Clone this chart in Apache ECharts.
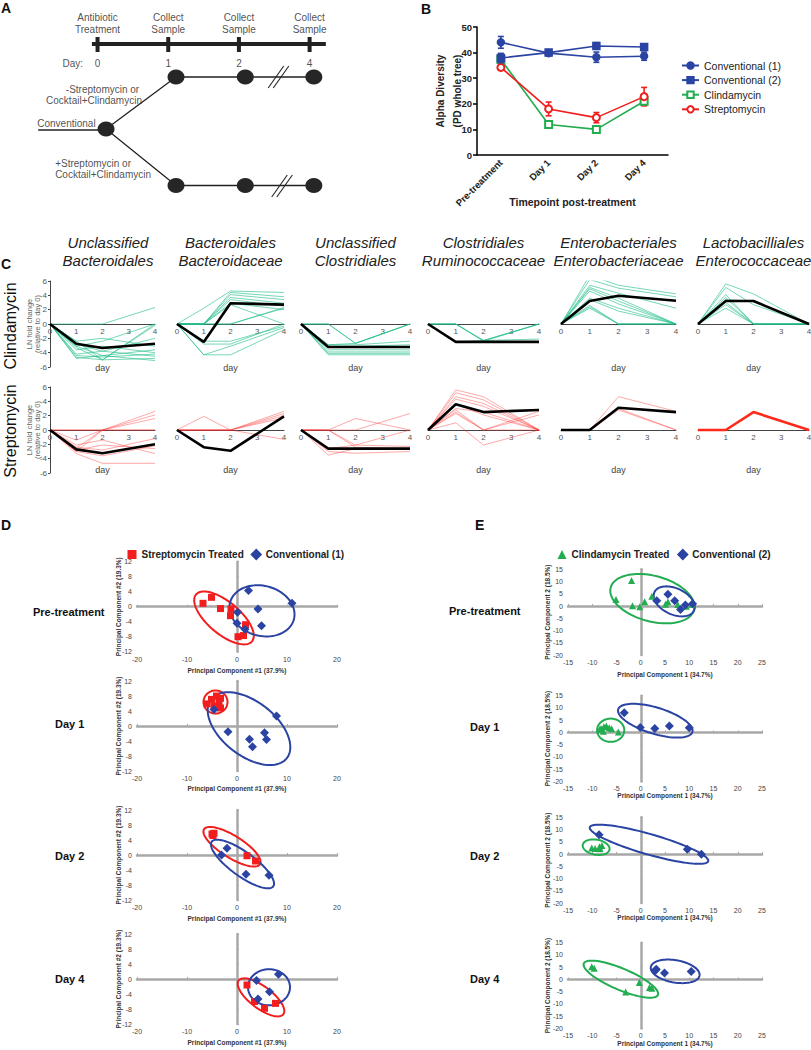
<!DOCTYPE html>
<html><head><meta charset="utf-8">
<script src="https://cdn.jsdelivr.net/npm/echarts@6.0.0/dist/echarts.min.js"></script>
<style>html,body{margin:0;padding:0;background:#fff}#chart{width:811px;height:1050px}</style>
</head><body><div id="chart"></div>
<script>
// ================= DATA =================
// Panel A (schematic; x in day-slot units, y in level units)
const aDayIndex = [0, 1, 2, 3];
const aDayLabels = ['0', '1', '2', '4'];
const aHeaderLine1 = ['Antibiotic', 'Collect', 'Collect', 'Collect'];
const aHeaderLine2 = ['Treatment', 'Sample', 'Sample', 'Sample'];
const aSampleX = [1.11, 2.09, 3.06];
const aBranchY = [7.7, 18.55];
const aRoot = [0.12, 12.9];
const aBreaks = [[2.56, 7.7], [2.61, 18.6]];
const aNotes = [
  ['-Streptomycin or', 0.07, 8.9, 'center'],
  ['Cocktail+Clindamycin', -0.05, 10.0, 'center'],
  ['Conventional', -0.44, 12.35, 'center'],
  ['+Streptomycin or', -0.60, 16.3, 'left'],
  ['Cocktail+Clindamycin', -0.60, 17.4, 'left']
];

// Panel B
const bCategories = ['Pre-treatment', 'Day 1', 'Day 2', 'Day 4'];
const bConv1 = [44.0, 39.8, 38.2, 38.6];
const bConv1Err = [2.3, 1.0, 2.0, 1.6];
const bConv2 = [37.9, 40.0, 42.6, 42.2];
const bConv2Err = [1.8, 1.0, 1.3, 1.0];
const bClinda = [37.3, 11.9, 10.0, 21.0];
const bClindaErr = [1.0, 0.8, 0.6, 1.3];
const bStrep = [34.2, 18.0, 14.6, 22.8];
const bStrepErr = [1.1, 2.7, 2.0, 3.6];

// Panel C (LN fold change at days 0,1,2,4)
const cDays = [0, 1, 2, 4];
const cTitles = [['Unclassified', 'Bacteroidales'], ['Bacteroidales', 'Bacteroidaceae'], ['Unclassified', 'Clostridiales'],
  ['Clostridiales', 'Ruminococcaceae'], ['Enterobacteriales', 'Enterobacteriaceae'], ['Lactobacilliales', 'Enterococcaceae']];
const cRowNames = ['Clindamycin', 'Streptomycin'];

const clinUnclBacteroidales = [[0,0,0,2.3],[0,-2.4,-5,0],[0,-3.1,-2.4,0],[0,-3.3,-5,-0.2],[0,-4.8,-4.4,-5.1],[0,-4.65,-5,-4.8],
  [0,-4.2,-3.8,-4.5],[0,-3.6,-3.1,-4],[0,-3.1,-4.4,-3.6],[0,-2.4,-2.0,-3.1],[0,-2.8,-3.8,-2.0],[0,-4.4,-4.6,-4.2]];
const clinUnclBacteroidalesMean = [0,-2.75,-3.35,-2.75];
const clinBacteroidaceae = [[0,2.2,4.6,4.4],[0,0,4.4,3.8],[0,0,4.1,3.4],[0,0,3.7,2.9],[0,0,3.4,2.5],[0,0,2.7,0],[0,0,2.9,2.0],
  [0,0,0,2.2],[0,0,0,2.3],[0,-2.4,-2.4,-0.3],[0,-4.3,-3.1,-0.5],[0,-4.3,-4.3,-0.8],[0,-2.8,-2.8,0]];
const clinBacteroidaceaeMean = [0,-2.5,2.9,2.7];
const clinUnclClostridiales = [[0,0,-2.7,0],[0,0,-2.7,0],[0,-2.9,-2.7,0],[0,-2.9,-2.9,-2.4],[0,-3.1,-3.1,-2.9],[0,-3.6,-3.6,-3.6],
  [0,-3.9,-3.9,-3.9],[0,-4.3,-4.3,-4.3],[0,-4.1,-4.1,-4.1]];
const clinUnclClostridialesMean = [0,-3.2,-3.2,-3.2];
const clinRuminococcaceae = [[0,0,-2.3,0],[0,0,-2.3,0],[0,0,-2.4,0],[0,-2.5,-2.3,-2.1],[0,-2.6,-2.5,-2.5]];
const clinRuminococcaceaeMean = [0,-2.5,-2.5,-2.5];
const clinEnterobacteriaceae = [[0,6.8,5.4,4.2],[0,6.2,5.0,3.8],[0,5.4,4.3,2.2],[0,5.1,3.6,0],[0,4.9,3.2,0],[0,4.6,2.8,0],
  [0,3.6,2.2,0],[0,3.4,1.8,0],[0,2.6,0,0],[0,2.2,0,0],[0,2.4,0,0]];
const clinEnterobacteriaceaeMean = [0,3.2,3.95,3.25];
const clinEnterococcaceae = [[0,5.6,4.2,0],[0,5.1,2.7,0],[0,4.1,0,0],[0,3.7,0,0],[0,3.0,0,0],[0,2.7,0,0],[0,2.2,0,0],[0,3.4,3.2,0]];
const clinEnterococcaceaeMean = [0,3.2,3.2,0];

const strepUnclBacteroidales = [[0,0,0,2.6],[0,-1.4,0,2.1],[0,-2.5,0,1.6],[0,-3,0,0],[0,0,0,0],[0,-2.1,-1.4,-3.3],[0,-3.3,-4.65,-4.65],
  [0,-2.8,-2.1,-2.6],[0,-3.0,-3.6,-2.2],[0,-2.4,-2.8,-1.2]];
const strepUnclBacteroidalesMean = [0,-2.7,-3.25,-2.0];
const strepBacteroidaceae = [[0,1.9,0,2.6],[0,0,0,2.3],[0,0,0,2.0],[0,0,0,1.7],[0,0,0,-1.3]];
const strepBacteroidaceaeMean = [0,-2.4,-2.9,1.9];
const strepUnclClostridiales = [[0,0,1.6,0],[0,0,0,2.3],[0,0,-2.1,0],[0,0,-2.4,-2.6],[0,-3,-3.25,-3],[0,-3.5,-2.6,-2.6],[0,-2.6,-2.1,-2.3]];
const strepUnclClostridialesMean = [0,-2.6,-2.6,-2.6];
const strepRuminococcaceae = [[0,5.6,4.65,0],[0,5.2,4.2,0],[0,4.65,3.7,0],[0,4.3,3.3,0],[0,2.8,0,2.6],[0,2.3,0,2.1],[0,3.6,2.1,0],
  [0,1.0,-2.1,0],[0,3.0,2.5,0],[0,2.5,0,0]];
const strepRuminococcaceaeMean = [0,3.6,2.5,2.8];
const strepEnterobacteriaceae = [[0,0,4.65,2.6],[0,0,3.0,0],[0,0,2.8,0]];
const strepEnterobacteriaceaeMean = [0,0,3.1,2.5];
const strepEnterococcaceae = [];
const strepEnterococcaceaeMean = [0,0,2.5,0];

// Panel D (PC1, PC2): Streptomycin treated vs Conventional (1)
const dRowNames = ['Pre-treatment', 'Day 1', 'Day 2', 'Day 4'];
const dStrepPre = [[-6.8,0.9],[-5.1,2.5],[-3.3,-0.5],[-1.2,-0.6],[-1.3,-2.4],[1.7,-4.8],[0.2,-8],[1.3,-7.7]];
const dConvPre = [[2.3,4.3],[4.2,-0.6],[11,0.9],[0.1,-1.5],[0,-4.4],[4.9,-5.1],[1.6,-6]];
const dStrepDay1 = [[-6,5.9],[-5.1,7.1],[-4.1,8],[-3.3,7.4],[-3.6,6.5],[-4.6,5.3],[-3.3,4.8]];
const dConvDay1 = [[-4.6,4.4],[-1.8,-1.5],[2.5,-3.5],[3.1,-5.5],[5.5,-1.8],[5.9,-3.6],[7.9,2.7]];
const dStrepDay2 = [[-5,5.6],[-4.8,5.2],[-4.6,5.8],[2,-0.2],[3.7,-1.6]];
const dConvDay2 = [[-2,1.8],[-3.1,0],[1.8,-5.1],[6.4,-5.4]];
const dStrepDay4 = [[2,-1.6],[3.5,-6],[5.5,-7.8],[7.7,-6.5]];
const dConvDay4 = [[3.9,-0.4],[6.5,-3.4],[8.3,1.3],[4.2,-5.3]];
// ellipses: centre x, centre y, semi-axis a, semi-axis b (PC1 units), tilt (deg)
const dStrepEllipses = [[-2.6,-3.0,7.3,3.2,-40],[-4.3,6.4,2.4,2.3,0],[-1.0,2.2,6.6,2.2,-32],[4.8,-4.9,5.6,2.2,-37]];
const dConvEllipses = [[5.0,-1.1,6.6,5.0,-15],[2.4,-0.7,9.6,5.4,-38],[1.1,-2.4,7.6,2.4,-36],[6.4,-2.2,4.2,3.6,0]];

// Panel E: Clindamycin treated vs Conventional (2)
const eClindaPre = [[-5.1,2.7],[-1.9,10.4],[-1.7,0.1],[-0.2,-0.3],[0.8,1.7],[2.3,4.0],[5.1,0.7],[5.6,1.7],[7.6,0.6],[9.4,-0.1],[10.6,0.7]];
const eConvPre = [[3.3,2.2],[5.6,4.8],[7.0,2.2],[8.2,-1.4],[9.2,0.4],[10.7,0.9]];
const eClindaDay1 = [[-8.2,1.6],[-7.6,2.3],[-7.1,2.6],[-6.5,1.9],[-7.7,0.5],[-6.0,1.5],[-4.6,0.2],[-8.5,1.2]];
const eConvDay1 = [[-3.4,8.0],[-0.1,2.0],[2.9,1.6],[5.9,2.6],[10.0,1.9]];
const eClindaDay2 = [[-10.1,2.5],[-9.4,2.3],[-8.5,3.0],[-8.0,3.5],[-8.4,2.2]];
const eConvDay2 = [[-8.6,7.9],[9.6,2.0],[12.5,-0.1]];
const eClindaDay4 = [[-10.1,5.2],[-9.6,4.6],[-3.1,-5.1],[-0.3,-1.3],[1.8,-3.3],[2.3,-3.6]];
const eConvDay4 = [[3.2,4.2],[4.9,2.6],[10.4,3.2],[3.0,3.6]];
const eClindaEllipses = [[2.4,3.0,8.9,4.7,-15],[-6.2,0.9,2.8,2.4,0],[-9.2,2.8,2.8,1.55,-10],[-4.1,0.1,8.3,2.2,-23]];
const eConvEllipses = [[6.9,1.9,4.5,2.7,-25],[3.0,4.8,8.0,2.7,-17],[1.7,4.0,12.7,2.1,-16],[7.1,3.3,5.1,2.3,-10]];

// ================= BUILD =================
const FONT = '"Liberation Sans", Arial, Helvetica, sans-serif';
const BLUE = '#2b44a3', GREEN = '#21ad50', RED = '#f21d1d';
const option = { animation: false, backgroundColor: '#ffffff', textStyle: { fontFamily: FONT },
  grid: [], xAxis: [], yAxis: [], series: [], legend: [], graphic: { elements: [] } };
const gfx = option.graphic.elements;

function addGrid(left, top, width, height) {
  option.grid.push({ left, top, width, height, containLabel: false, outerBoundsMode: 'none', show: false });
  return option.grid.length - 1;
}
function txt(text, x, y, o) {
  o = o || {};
  gfx.push({ type: 'text', x, y, rotation: o.rot || 0, silent: true, z: 100,
    style: { text, fill: o.color || '#222', fontSize: o.size || 10, fontWeight: o.weight || 'normal',
      fontStyle: o.style || 'normal', fontFamily: FONT,
      textAlign: o.align || 'left', textVerticalAlign: o.valign || 'middle',
      align: o.align || 'left', verticalAlign: o.valign || 'middle' } });
}

// ---------- Panel A ----------
const gA = addGrid(0, 0, 340, 200);
const xA = option.xAxis.push({ gridIndex: gA, type: 'value', min: -1.38, max: 3.43, show: false }) - 1;
const yA = option.yAxis.push({ gridIndex: gA, type: 'value', min: 0, max: 20, inverse: true, show: false }) - 1;
function aLine(points, width) {
  option.series.push({ type: 'line', xAxisIndex: xA, yAxisIndex: yA, data: points, symbol: 'none', silent: true,
    lineStyle: { color: '#222', width }, z: 2 });
}
aLine([[-0.08, 4.4], [3.23, 4.4]], 4);
option.series.push({ type: 'scatter', xAxisIndex: xA, yAxisIndex: yA, silent: true, symbol: 'rect', symbolSize: [4, 15],
  itemStyle: { color: '#222', opacity: 1 }, data: aDayIndex.map(i => [i, 4.45]), z: 3 });
aBranchY.forEach(by => aLine([aRoot, [aSampleX[0], by], [aSampleX[1], by], [aSampleX[2], by]], 1.3));
aLine([[-0.84, 13.0], [aRoot[0], 13.0]], 1.3);
aBreaks.forEach(b => { [-0.036, 0.036].forEach(o => aLine([[b[0] + o - 0.11, b[1] + 1.1], [b[0] + o + 0.11, b[1] - 1.1]], 1.1)); });
option.series.push({ type: 'scatter', xAxisIndex: xA, yAxisIndex: yA, silent: true, symbol: 'circle', symbolSize: [17, 15],
  itemStyle: { color: '#262626', opacity: 1 }, z: 4,
  data: [aRoot].concat(aBranchY.flatMap(by => aSampleX.map(sx => [sx, by]))) });
const aTextData = [];
aDayIndex.forEach((d, i) => {
  aTextData.push({ name: aHeaderLine1[i], value: [d, 1.7] });
  aTextData.push({ name: aHeaderLine2[i], value: [d, 2.9] });
  aTextData.push({ name: aDayLabels[i], value: [d, 6.3] });
});
aTextData.push({ name: 'Day:', value: [-0.35, 6.3] });
aNotes.forEach(n => aTextData.push({ name: n[0], value: [n[1], n[2]], label: { align: n[3] } }));
option.series.push({ type: 'scatter', xAxisIndex: xA, yAxisIndex: yA, silent: true, symbolSize: 0, data: aTextData, z: 5,
  label: { show: true, position: 'inside', formatter: '{b}', fontSize: 10, color: '#222', fontFamily: FONT,
    align: 'center', verticalAlign: 'middle' } });

// ---------- Panel B ----------
const gB = addGrid(477, 27, 191, 128);
const xB = option.xAxis.push({ gridIndex: gB, type: 'category', data: bCategories, boundaryGap: true,
  axisLine: { lineStyle: { color: '#000', width: 1.5 } },
  axisTick: { alignWithLabel: true, length: 4, lineStyle: { color: '#000', width: 1.5 } },
  axisLabel: { rotate: 45, fontSize: 9.5, fontWeight: 'bold', color: '#222', margin: 6, interval: 0 },
  name: 'Timepoint post-treatment', nameLocation: 'middle', nameGap: 41, nameMoveOverlap: false,
  nameTextStyle: { fontSize: 10.5, fontWeight: 'bold', color: '#222' } }) - 1;
const yB = option.yAxis.push({ gridIndex: gB, type: 'value', min: 0, max: 50, interval: 10,
  axisLine: { show: true, lineStyle: { color: '#000', width: 1.5 } },
  axisTick: { show: true, length: 4, lineStyle: { color: '#000', width: 1.5 } },
  axisLabel: { fontSize: 9.5, fontWeight: 'bold', color: '#222', margin: 5 }, splitLine: { show: false },
  name: 'Alpha Diversity\n(PD whole tree)', nameLocation: 'middle', nameGap: 11.5, nameMoveOverlap: false,
  nameTextStyle: { fontSize: 10, fontWeight: 'bold', color: '#222', lineHeight: 17 } }) - 1;
function errRender(params, api) {
  const x = api.value(0), lo = api.value(1), hi = api.value(2);
  const p1 = api.coord([x, hi]), p2 = api.coord([x, lo]);
  const w = 3, c = api.visual('color');
  const st = () => ({ stroke: c, lineWidth: 1.6 });
  return { type: 'group', children: [
    { type: 'line', shape: { x1: p1[0], y1: p1[1], x2: p2[0], y2: p2[1] }, style: st() },
    { type: 'line', shape: { x1: p1[0] - w, y1: p1[1], x2: p1[0] + w, y2: p1[1] }, style: st() },
    { type: 'line', shape: { x1: p2[0] - w, y1: p2[1], x2: p2[0] + w, y2: p2[1] }, style: st() }] };
}
[['Conventional (1)', bConv1, bConv1Err, BLUE, 'circle', 6],
 ['Conventional (2)', bConv2, bConv2Err, BLUE, 'rect', 6],
 ['Clindamycin', bClinda, bClindaErr, GREEN, 'emptyRect', 5],
 ['Streptomycin', bStrep, bStrepErr, RED, 'emptyCircle', 5]].forEach(s => {
  option.series.push({ type: 'custom', xAxisIndex: xB, yAxisIndex: yB, silent: true, renderItem: errRender,
    itemStyle: { color: s[3] }, encode: { x: 0, y: [1, 2] }, z: s[5],
    data: s[1].map((v, i) => [i, v - s[2][i], v + s[2][i]]) });
  option.series.push({ type: 'line', name: s[0], xAxisIndex: xB, yAxisIndex: yB, data: s[1], symbol: s[4], symbolSize: 7,
    itemStyle: { color: s[3], borderColor: s[3], borderWidth: 1.5, opacity: 1 }, lineStyle: { color: s[3], width: 1.6 }, z: s[5] });
});
option.legend.push({ orient: 'vertical', left: 676, top: 54, itemWidth: 17, itemHeight: 8, itemGap: 1.6, selectedMode: false,
  textStyle: { fontSize: 10.5, color: '#222', lineHeight: 13, fontFamily: FONT },
  data: ['Conventional (1)', 'Conventional (2)', 'Clindamycin', 'Streptomycin'] });

// ---------- Panel C ----------
const cLeft = [50, 177, 301, 428, 561, 698];
const cWidth = [105, 107, 109, 111, 115, 111];
const cTop = [281, 387];
const cHeight = 86;
const cTitleX = [108, 230.5, 355.5, 483.5, 618.5, 753.5];
const cLines = [
  [clinUnclBacteroidales, clinBacteroidaceae, clinUnclClostridiales, clinRuminococcaceae, clinEnterobacteriaceae, clinEnterococcaceae],
  [strepUnclBacteroidales, strepBacteroidaceae, strepUnclClostridiales, strepRuminococcaceae, strepEnterobacteriaceae, strepEnterococcaceae]];
const cMeans = [
  [clinUnclBacteroidalesMean, clinBacteroidaceaeMean, clinUnclClostridialesMean, clinRuminococcaceaeMean, clinEnterobacteriaceaeMean, clinEnterococcaceaeMean],
  [strepUnclBacteroidalesMean, strepBacteroidaceaeMean, strepUnclClostridialesMean, strepRuminococcaceaeMean, strepEnterobacteriaceaeMean, strepEnterococcaceaeMean]];
const cLineColor = ['rgba(34,190,135,0.62)', 'rgba(255,50,50,0.42)'];
for (let r = 0; r < 2; r++) {
  for (let j = 0; j < 6; j++) {
    const g = addGrid(cLeft[j], cTop[r], cWidth[j], cHeight);
    // x axis drawn through y = 0 (middle of the symmetric -6..6 range), labels just under it
    const xi = option.xAxis.push({ gridIndex: g, type: 'value', min: 0, max: 4, interval: 1, position: 'bottom',
      offset: -cHeight / 2,
      axisLine: { show: true, onZero: false, lineStyle: { color: '#444', width: 1 } }, axisTick: { show: false },
      splitLine: { show: false }, axisLabel: { fontSize: 8, color: '#555', margin: 3 } }) - 1;
    const yi = option.yAxis.push(j === 0 ? { gridIndex: g, type: 'value', min: -6, max: 6, interval: 2,
      axisLine: { show: true, onZero: false, lineStyle: { color: '#444', width: 1 } }, axisTick: { show: true, length: 2, lineStyle: { color: '#444' } },
      axisLabel: { fontSize: 8, color: '#555', margin: 3 }, splitLine: { show: false },
      name: 'LN fold change\n(relative to day 0)', nameLocation: 'middle', nameGap: 9, nameMoveOverlap: false,
      nameTextStyle: { fontSize: 7.5, color: '#666', lineHeight: 8 } }
      : { gridIndex: g, type: 'value', min: -6, max: 6, show: false }) - 1;
    cLines[r][j].forEach(v => option.series.push({ type: 'line', xAxisIndex: xi, yAxisIndex: yi, silent: true, symbol: 'none',
      data: cDays.map((d, k) => [d, v[k]]), lineStyle: { color: cLineColor[r], width: 1 }, z: 2 }));
    const meanColor = (r === 1 && j === 5) ? '#ff2a1a' : '#000';
    option.series.push({ type: 'line', xAxisIndex: xi, yAxisIndex: yi, silent: true, symbol: 'none',
      data: cDays.map((d, k) => [d, cMeans[r][j][k]]), lineStyle: { color: meanColor, width: 2.6 }, z: 3 });
    txt('day', cLeft[j] + cWidth[j] / 2, r === 0 ? 368 : 470, { size: 9, color: '#444', align: 'center' });
  }
}
cTitles.forEach((t, j) => {
  txt(t[0], cTitleX[j], 242, { size: 15, style: 'italic', color: '#222', align: 'center' });
  txt(t[1], cTitleX[j], 260, { size: 15, style: 'italic', color: '#222', align: 'center' });
});
txt(cRowNames[0], 10, 326, { size: 16, color: '#111', align: 'center', rot: Math.PI / 2 });
txt(cRowNames[1], 10, 431, { size: 16, color: '#111', align: 'center', rot: Math.PI / 2 });

// ---------- Panels D & E ----------
function ellipseRender(params, api) {
  const c = api.coord([api.value(0), api.value(1)]);
  const sx = api.size([1, 0])[0];
  const a = api.value(2) * sx, b = api.value(3) * sx, t = api.value(4) * Math.PI / 180;
  const pts = [];
  for (let k = 0; k < 90; k++) {
    const u = k / 90 * 2 * Math.PI, ex = a * Math.cos(u), ey = b * Math.sin(u);
    pts.push([c[0] + ex * Math.cos(t) - ey * Math.sin(t), c[1] - (ex * Math.sin(t) + ey * Math.cos(t))]);
  }
  return { type: 'polygon', shape: { points: pts }, style: { fill: 'none', stroke: api.visual('color'), lineWidth: 2 } };
}
function addPCA(left, top, width, height, xr, yr, xName, yName, xNameGap, yNameGap) {
  const g = addGrid(left, top, width, height);
  const xi = option.xAxis.length, yi = option.yAxis.length;
  const grey = '#a8a8a8';
  option.xAxis.push({ gridIndex: g, type: 'value', min: xr[0], max: xr[1], interval: xr[2], position: 'bottom',
    axisLine: { show: false, onZero: false }, axisTick: { show: false }, splitLine: { show: false },
    axisLabel: { fontSize: 7, color: '#444', margin: 4 },
    name: xName, nameLocation: 'middle', nameGap: xNameGap, nameMoveOverlap: false,
    nameTextStyle: { fontSize: 6.5, fontWeight: 'bold', color: '#333' } });
  option.xAxis.push({ gridIndex: g, type: 'value', min: xr[0], max: xr[1], interval: xr[2], position: 'top',
    axisLine: { show: true, onZero: true, onZeroAxisIndex: yi, lineStyle: { color: grey, width: 2.5 } },
    axisTick: { show: true, length: 2, lineStyle: { color: grey, width: 1 } }, axisLabel: { show: false }, splitLine: { show: false } });
  option.yAxis.push({ gridIndex: g, type: 'value', min: yr[0], max: yr[1], interval: yr[2], position: 'left',
    axisLine: { show: false, onZero: false }, axisTick: { show: false }, splitLine: { show: false },
    axisLabel: { fontSize: 7, color: '#444', margin: 5 },
    name: yName, nameLocation: 'middle', nameGap: yNameGap, nameRotate: 90, nameMoveOverlap: false,
    nameTextStyle: { fontSize: 6.5, fontWeight: 'bold', color: '#333' } });
  option.yAxis.push({ gridIndex: g, type: 'value', min: yr[0], max: yr[1], interval: yr[2], position: 'right',
    axisLine: { show: true, onZero: true, onZeroAxisIndex: xi, lineStyle: { color: grey, width: 2.5 } },
    axisTick: { show: true, length: 2, lineStyle: { color: grey, width: 1 } }, axisLabel: { show: false }, splitLine: { show: false } });
  return { xi, yi };
}
function addGroup(ax, name, pts, ellipse, color, symbol, size) {
  option.series.push({ type: 'custom', xAxisIndex: ax.xi, yAxisIndex: ax.yi, silent: true, renderItem: ellipseRender,
    itemStyle: { color }, encode: { x: 0, y: 1 }, clip: false, data: [ellipse], z: 3 });
  option.series.push({ type: 'scatter', name, xAxisIndex: ax.xi, yAxisIndex: ax.yi, silent: true, symbol, symbolSize: size,
    itemStyle: { color, opacity: 1 }, data: pts, z: 4 });
}
const dTop = [561.7, 681, 810, 934];
const dXGap = [15.5, 13.5, 14.5, 14.5];
const dStrep = [dStrepPre, dStrepDay1, dStrepDay2, dStrepDay4];
const dConv = [dConvPre, dConvDay1, dConvDay2, dConvDay4];
const eTop = [569.3, 695.7, 817.3, 942.7];
const eXGap = [15.5, 10.5, 11, 11.5];
const eClinda = [eClindaPre, eClindaDay1, eClindaDay2, eClindaDay4];
const eConv = [eConvPre, eConvDay1, eConvDay2, eConvDay4];
const dLabelY = [611.7, 724, 855.7, 979];
const eLabelY = [611, 727, 855.7, 979.3];
for (let r = 0; r < 4; r++) {
  const ad = addPCA(137, dTop[r], 200, 90, [-20, 20, 10], [-12, 12, 4],
    'Principal Component #1 (37.9%)', 'Principal Component #2 (19.3%)', dXGap[r], 15);
  addGroup(ad, 'Streptomycin Treated', dStrep[r], dStrepEllipses[r], RED, 'rect', 7);
  addGroup(ad, 'Conventional (1)', dConv[r], dConvEllipses[r], BLUE, 'diamond', 9);
  const ae = addPCA(568, eTop[r], 194, 85.7, [-15, 25, 5], [-20, 15, 5],
    'Principal Component 1 (34.7%)', 'Principal Component 2 (18.5%)', eXGap[r], 17.5);
  addGroup(ae, 'Clindamycin Treated', eClinda[r], eClindaEllipses[r], GREEN, 'triangle', 7);
  addGroup(ae, 'Conventional (2)', eConv[r], eConvEllipses[r], BLUE, 'diamond', 9);
  txt(dRowNames[r], r === 0 ? 33 : 55, dLabelY[r], { size: 11, weight: 'bold', color: '#111' });
  txt(dRowNames[r], r === 0 ? 449 : 470, eLabelY[r], { size: 11, weight: 'bold', color: '#111' });
}
option.legend.push({ left: 122.5, top: 544, itemWidth: 9, itemHeight: 9, itemGap: 7, selectedMode: false,
  textStyle: { fontSize: 10, fontWeight: 'bold', color: '#222', fontFamily: FONT },
  data: [{ name: 'Streptomycin Treated', icon: 'rect' }, { name: 'Conventional (1)', icon: 'diamond' }] });
option.legend.push({ left: 552.5, top: 544, itemWidth: 9, itemHeight: 9, itemGap: 8, selectedMode: false,
  textStyle: { fontSize: 10, fontWeight: 'bold', color: '#222', fontFamily: FONT },
  data: [{ name: 'Clindamycin Treated', icon: 'triangle' }, { name: 'Conventional (2)', icon: 'diamond' }] });

// panel letters
txt('A', 1, 8, { size: 14, weight: 'bold', color: '#111' });
txt('B', 421, 9, { size: 14, weight: 'bold', color: '#111' });
txt('C', 1, 264, { size: 14, weight: 'bold', color: '#111' });
txt('D', 1, 525, { size: 14, weight: 'bold', color: '#111' });
txt('E', 475, 525, { size: 14, weight: 'bold', color: '#111' });

const chart = echarts.init(document.getElementById('chart'), null, { renderer: 'svg', width: 811, height: 1050 });
chart.setOption(option);
</script></body></html>
